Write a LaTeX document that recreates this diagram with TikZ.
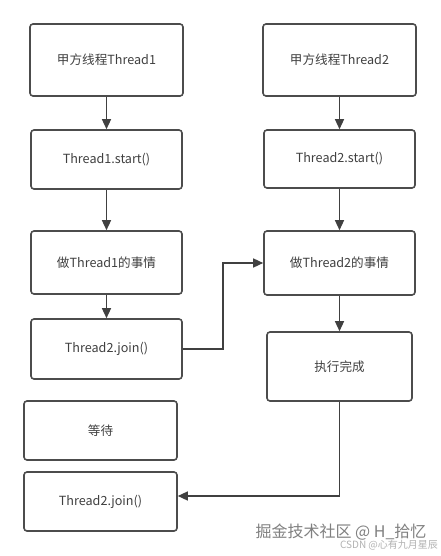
\documentclass[tikz,border=0pt]{standalone}
\usepackage{fontspec}
\setmainfont{Noto Sans CJK SC}
\usetikzlibrary{arrows.meta}

\tikzset{
    box/.style={draw=black!70, line width=1.6pt, rounded corners=3pt, fill=white,
        text=black!75, font=\fontsize{12.6}{14}\selectfont, inner sep=0pt},
    link/.style={draw=black!75, line width=1.4pt, -{Triangle[length=10pt, width=9pt]}},
}

\begin{document}
\begin{tikzpicture}[x=1pt, y=-1pt]
\useasboundingbox[fill=white] (0,0) rectangle (441,556);

\begin{scope}
    \node[box, minimum width=153, minimum height=72] (t1) at (106.5, 60) {甲方线程Thread1};
    \node[box, minimum width=151, minimum height=59] (t1start) at (106.5, 159.5) {Thread1.start()};
    \node[box, minimum width=151, minimum height=63] (t1work) at (106.5, 262.5) {做Thread1的事情};
    \node[box, minimum width=151, minimum height=60] (t1join) at (106.5, 349) {Thread2.join()};
    \node[box, minimum width=153, minimum height=59] (wait) at (100.5, 430.5) {等待};
    \node[box, minimum width=153, minimum height=59] (t1back) at (100.5, 501.5) {Thread2.join()};
\end{scope}

\begin{scope}
    \node[box, minimum width=153, minimum height=72] (t2) at (339.5, 60) {甲方线程Thread2};
    \node[box, minimum width=151, minimum height=58] (t2start) at (339.5, 159) {Thread2.start()};
    \node[box, minimum width=151, minimum height=64] (t2work) at (339.5, 263) {做Thread2的事情};
    \node[box, minimum width=145, minimum height=69] (t2done) at (339.5, 366.5) {执行完成};
\end{scope}

\draw[link] (t1) -- (t1start);
\draw[link] (t1start) -- (t1work);
\draw[link] (t1work) -- (t1join);

\draw[link] (t2) -- (t2start);
\draw[link] (t2start) -- (t2work);
\draw[link] (t2work) -- (t2done);

\coordinate (up) at (223, 349);
\draw[link] (t1join.east) -- (up) |- (t2work.west);

\coordinate (down) at (t2done.south |- 0, 496);
\draw[link] (t2done.south) -- (down) -- (t1back.east |- down);

\node[text=black!50, font=\fontsize{16}{18}\selectfont, inner sep=0pt] (mark1) at (341, 532) {掘金技术社区 @ H\_拾忆};
\node[text=black!30, font=\fontsize{10}{11}\selectfont, inner sep=0pt] (mark2) at (389, 545) {CSDN @心有九月星辰};

\end{tikzpicture}
\end{document}
